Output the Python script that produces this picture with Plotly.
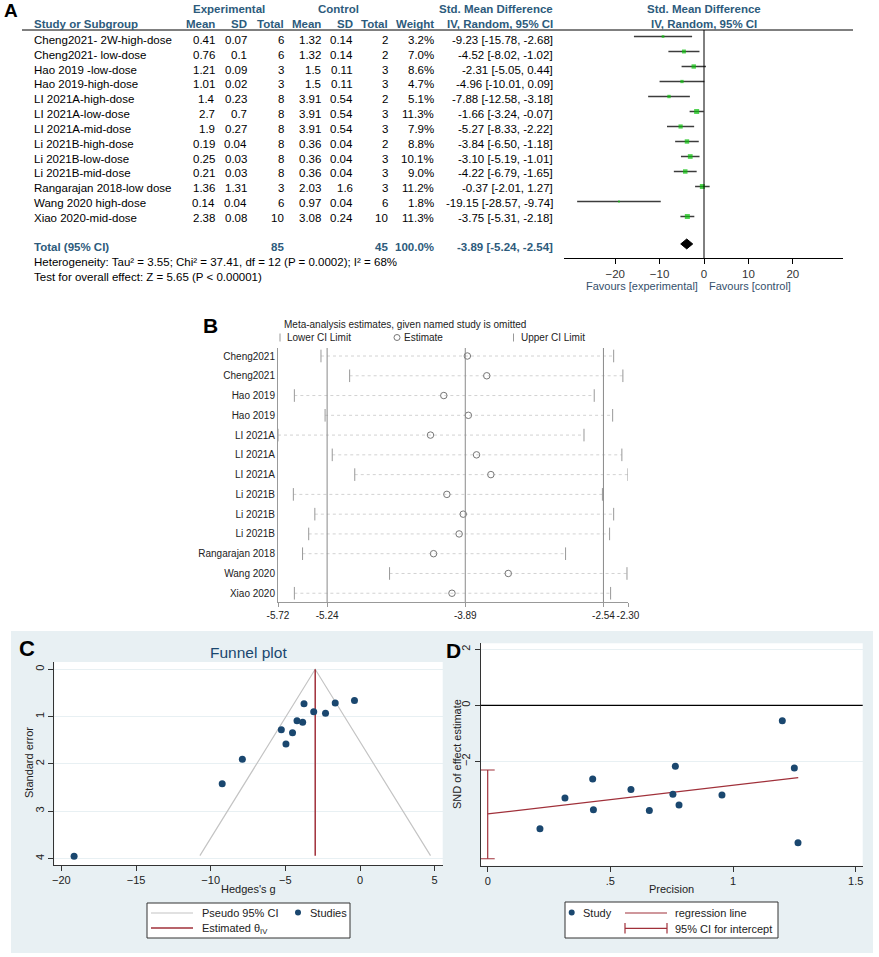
import plotly.graph_objects as go

W, H = 879, 957
def PX(x): return x / W
def PY(y): return 1 - y / H

FONT = "Liberation Sans, Arial, sans-serif"
HDR = "#2d5b7c"
NAVY = "#1a476f"
CRAN = "#a0303a"

# ---------------- Panel A data ----------------
studies = ["Cheng2021- 2W-high-dose", "Cheng2021- low-dose", "Hao 2019 -low-dose",
           "Hao 2019-high-dose", "LI 2021A-high-dose", "LI 2021A-low-dose",
           "LI 2021A-mid-dose", "Li 2021B-high-dose", "Li 2021B-low-dose",
           "Li 2021B-mid-dose", "Rangarajan 2018-low dose", "Wang 2020 high-dose",
           "Xiao 2020-mid-dose"]
exp_mean = [0.41, 0.76, 1.21, 1.01, 1.4, 2.7, 1.9, 0.19, 0.25, 0.21, 1.36, 0.14, 2.38]
exp_sd = [0.07, 0.1, 0.09, 0.02, 0.23, 0.7, 0.27, 0.04, 0.03, 0.03, 1.31, 0.04, 0.08]
exp_n = [6, 6, 3, 3, 8, 8, 8, 8, 8, 8, 3, 6, 10]
ctl_mean = [1.32, 1.32, 1.5, 1.5, 3.91, 3.91, 3.91, 0.36, 0.36, 0.36, 2.03, 0.97, 3.08]
ctl_sd = [0.14, 0.14, 0.11, 0.11, 0.54, 0.54, 0.54, 0.04, 0.04, 0.04, 1.6, 0.04, 0.24]
ctl_n = [2, 2, 3, 3, 2, 3, 3, 2, 3, 3, 3, 6, 10]
weight = [3.2, 7.0, 8.6, 4.7, 5.1, 11.3, 7.9, 8.8, 10.1, 9.0, 11.2, 1.8, 11.3]
smd = [-9.23, -4.52, -2.31, -4.96, -7.88, -1.66, -5.27, -3.84, -3.10, -4.22, -0.37, -19.15, -3.75]
ci_lo = [-15.78, -8.02, -5.05, -10.01, -12.58, -3.24, -8.33, -6.50, -5.19, -6.79, -2.01, -28.57, -5.31]
ci_hi = [-2.68, -1.02, 0.44, 0.09, -3.18, -0.07, -2.22, -1.18, -1.01, -1.65, 1.27, -9.74, -2.18]
total_exp, total_ctl, total_w = 85, 45, 100.0
pooled = [-3.89, -5.24, -2.54]   # estimate, lower, upper
forest_ticks = [-20, -10, 0, 10, 20]
het_text = "Heterogeneity: Tau² = 3.55; Chi² = 37.41, df = 12 (P = 0.0002); I² = 68%"
test_text = "Test for overall effect: Z = 5.65 (P < 0.00001)"

# ---------------- Panel B data ----------------
b_names = ["Cheng2021", "Cheng2021", "Hao 2019", "Hao 2019", "LI 2021A", "LI 2021A",
           "LI 2021A", "Li 2021B", "Li 2021B", "Li 2021B", "Rangarajan 2018",
           "Wang 2020", "Xiao 2020"]
b_est = [-3.87, -3.68, -4.10, -3.86, -4.23, -3.78, -3.64, -4.07, -3.91, -3.95, -4.20, -3.47, -4.02]
b_lo = [-5.30, -5.02, -5.56, -5.26, -5.72, -5.19, -4.97, -5.57, -5.36, -5.42, -5.48, -4.63, -5.56]
b_hi = [-2.44, -2.35, -2.63, -2.45, -2.73, -2.36, -2.30, -2.55, -2.44, -2.48, -2.91, -2.31, -2.47]
b_ticks = [-5.72, -5.24, -3.89, -2.54, -2.30]
b_ticklabels = ["-5.72", "-5.24", "-3.89", "-2.54", "-2.30"]

# ---------------- Panel C data ----------------
c_g = [-19.15, -9.23, -7.88, -5.27, -4.96, -4.52, -4.22, -3.84, -3.75, -3.10, -2.31, -1.66, -0.37]
c_se = [3.95, 2.42, 1.90, 1.28, 1.58, 1.34, 1.09, 1.12, 0.73, 0.90, 0.93, 0.71, 0.66]
c_theta = -3.0
c_se_max = 3.94
c_xticks = [-20, -15, -10, -5, 0, 5]
c_yticks = [0, 1, 2, 3, 4]

# ---------------- Panel D data ----------------
d_prec = [0.213, 0.315, 0.428, 0.431, 0.584, 0.659, 0.755, 0.765, 0.780, 0.955, 1.201, 1.250, 1.265]
d_snd = [-4.41, -3.31, -2.63, -3.73, -3.01, -3.76, -3.18, -2.18, -3.56, -3.20, -0.55, -2.24, -4.91]
d_reg_x = [0.0, 1.266]
d_reg_y = [-3.88, -2.58]
d_int_ci = [-5.48, -2.31]
d_xticks = [0, 0.5, 1, 1.5]
d_xticklabels = ["0", ".5", "1", "1.5"]
d_yticks = [-2, 0, 2]

fig = go.Figure()
ann = []
shapes = []

def A(x, y, text, size=11.5, color="#000", xanchor="left", yanchor="middle", angle=0, family=FONT):
    ann.append(dict(x=PX(x), y=PY(y), xref="paper", yref="paper", text=text, showarrow=False,
                    xanchor=xanchor, yanchor=yanchor, textangle=angle,
                    font=dict(size=size, color=color, family=family)))

def L(x0, y0, x1, y1, color, width=1.0):
    shapes.append(dict(type="line", xref="paper", yref="paper", x0=PX(x0), x1=PX(x1),
                       y0=PY(y0), y1=PY(y1), line=dict(color=color, width=width), layer="above"))

# ============ Panel A: forest plot ============
n = len(studies)
xs, ys = [], []
for i, (lo, hi) in enumerate(zip(ci_lo, ci_hi)):
    xs += [lo, hi, None]
    ys += [i, i, None]
fig.add_trace(go.Scatter(x=xs, y=ys, mode="lines", line=dict(color="#3c3c3c", width=1.5),
                         xaxis="x", yaxis="y", hoverinfo="skip", showlegend=False))
fig.add_trace(go.Scatter(x=smd, y=list(range(n)), mode="markers",
                         marker=dict(symbol="square", color="#0cc00c",
                                     size=[1.5 * w ** 0.5 for w in weight], line=dict(width=0)),
                         xaxis="x", yaxis="y", showlegend=False))
ty = n + 0.83
hh = 0.33
fig.add_trace(go.Scatter(x=[pooled[1], pooled[0], pooled[2], pooled[0], pooled[1]],
                         y=[ty, ty - hh, ty, ty + hh, ty], mode="lines", fill="toself",
                         fillcolor="black", line=dict(color="black", width=1),
                         xaxis="x", yaxis="y", showlegend=False))
shapes.append(dict(type="line", xref="x", yref="y domain", x0=0, x1=0, y0=0, y1=1,
                   line=dict(color="black", width=1)))
L(22, 30, 853, 30, "black")

# table text
A(2, 11, "<b>A</b>", size=19)
A(228.5, 9, "<b>Experimental</b>", color=HDR, xanchor="center")
A(338, 9, "<b>Control</b>", color=HDR, xanchor="center")
A(496, 9, "<b>Std. Mean Difference</b>", color=HDR, xanchor="center")
A(555, 24, "<b>IV, Random, 95% CI</b>", color=HDR, xanchor="right")
A(704, 9, "<b>Std. Mean Difference</b>", color=HDR, xanchor="center")
A(704, 24, "<b>IV, Random, 95% CI</b>", color=HDR, xanchor="center")
A(32, 24, "<b>Study or Subgroup</b>", color=HDR)
cols = [217, 249, 285.5, 323, 354.5, 390, 436]
for cx, t in zip(cols, ["Mean", "SD", "Total", "Mean", "SD", "Total", "Weight"]):
    A(cx, 24, "<b>%s</b>" % t, color=HDR, xanchor="right")
for i in range(n):
    y = 40 + 14.83 * i
    A(32, y, studies[i])
    vals = [str(exp_mean[i]), str(exp_sd[i]), str(exp_n[i]), str(ctl_mean[i]),
            str(ctl_sd[i]), str(ctl_n[i]), "%.1f%%" % weight[i]]
    for cx, t in zip(cols, vals):
        A(cx, y, t, xanchor="right")
    A(555, y, "%.2f [%.2f, %.2f]" % (smd[i], ci_lo[i], ci_hi[i]), xanchor="right")
A(32, 247, "<b>Total (95% CI)</b>", color=HDR)
A(285.5, 247, "<b>%d</b>" % total_exp, color=HDR, xanchor="right")
A(390, 247, "<b>%d</b>" % total_ctl, color=HDR, xanchor="right")
A(436, 247, "<b>%.1f%%</b>" % total_w, color=HDR, xanchor="right")
A(555, 247, "<b>%.2f [%.2f, %.2f]</b>" % tuple(pooled), color=HDR, xanchor="right")
A(32, 262, het_text)
A(32, 277, test_text)
A(642, 285.5, "Favours [experimental]", size=11, color="#34506b", xanchor="center")
A(750, 285.5, "Favours [control]", size=11, color="#34506b", xanchor="center")

# ============ Panel B: sensitivity ============
dx, dy = [], []
for i, (lo, hi) in enumerate(zip(b_lo, b_hi)):
    dx += [lo, hi, None]
    dy += [i, i, None]
fig.add_trace(go.Scatter(x=dx, y=dy, mode="lines", line=dict(color="#d2d2d2", width=1, dash="dot"),
                         xaxis="x2", yaxis="y2", hoverinfo="skip", showlegend=False))
for ref in [pooled[1], pooled[0], pooled[2]]:
    shapes.append(dict(type="line", xref="x2", yref="y2 domain", x0=ref, x1=ref, y0=0, y1=1,
                       line=dict(color="#8a8a8a", width=1)))
fig.add_trace(go.Scatter(x=b_lo + b_hi, y=list(range(n)) * 2, mode="markers",
                         marker=dict(symbol="line-ns", size=9, line=dict(color="#999", width=1)),
                         xaxis="x2", yaxis="y2", showlegend=False))
fig.add_trace(go.Scatter(x=b_est, y=list(range(n)), mode="markers",
                         marker=dict(symbol="circle-open", size=6.5, color="#777", line=dict(width=1)),
                         xaxis="x2", yaxis="y2", showlegend=False))
A(201, 326, "<b>B</b>", size=21)
A(282, 324, "Meta-analysis estimates, given named study is omitted", size=10, color="#222")
L(280, 333.5, 280, 341.5, "#999")
A(285, 337.5, "Lower CI Limit", size=10, color="#222")
shapes.append(dict(type="circle", xref="paper", yref="paper", x0=PX(394), x1=PX(400),
                   y0=PY(340.5), y1=PY(334.5), line=dict(color="#777", width=1), layer="above"))
A(402, 337.5, "Estimate", size=10, color="#222")
L(513.5, 333.5, 513.5, 341.5, "#999")
A(519, 337.5, "Upper CI Limit", size=10, color="#222")

# ============ Panel C/D background ============
shapes.insert(0, dict(type="rect", xref="paper", yref="paper", x0=PX(11), x1=PX(873),
                      y0=PY(953), y1=PY(631), fillcolor="#e8f0f3", line=dict(width=0), layer="below"))
for ax in ["x3", "x4"]:
    yy = ax.replace("x", "y")
    shapes.append(dict(type="rect", xref=ax + " domain", yref=yy + " domain", x0=0, x1=1, y0=0, y1=1,
                       fillcolor="white", line=dict(width=0), layer="below"))

# ============ Panel C: funnel ============
fx = [c_theta - 1.96 * c_se_max, c_theta, c_theta + 1.96 * c_se_max]
fy = [c_se_max, 0, c_se_max]
fig.add_trace(go.Scatter(x=fx, y=fy, mode="lines", line=dict(color="#c4c4c4", width=1.2),
                         xaxis="x3", yaxis="y3", showlegend=False))
fig.add_trace(go.Scatter(x=[c_theta, c_theta], y=[0, c_se_max], mode="lines",
                         line=dict(color=CRAN, width=1.5), xaxis="x3", yaxis="y3", showlegend=False))
fig.add_trace(go.Scatter(x=c_g, y=c_se, mode="markers", marker=dict(color=NAVY, size=7),
                         xaxis="x3", yaxis="y3", showlegend=False))
A(17, 648, "<b>C</b>", size=22)
A(248, 652, "Funnel plot", size=15.5, color=NAVY, xanchor="center")
A(248, 889, "Hedges's g", size=11, color="#222", xanchor="center")
A(29, 763, "Standard error", size=11, color="#222", xanchor="center", angle=-90)
# legend C
shapes.append(dict(type="rect", xref="paper", yref="paper", x0=PX(147), x1=PX(350), y0=PY(938),
                   y1=PY(903), fillcolor="white", line=dict(color="#333", width=1), layer="above"))
L(151, 913, 193, 913, "#c4c4c4", 1.2)
L(151, 928, 193, 928, CRAN, 1.5)
shapes.append(dict(type="circle", xref="paper", yref="paper", x0=PX(295), x1=PX(301), y0=PY(915.5),
                   y1=PY(909.5), fillcolor=NAVY, line=dict(width=0), layer="above"))
A(199.5, 913, "Pseudo 95% CI", size=11, color="#222")
A(308, 913, "Studies", size=11, color="#222")
A(199.5, 928.5, "Estimated θ<sub>IV</sub>", size=11, color="#222")

# ============ Panel D: Egger ============
shapes.append(dict(type="line", xref="x4 domain", yref="y4", x0=0, x1=1, y0=0, y1=0,
                   line=dict(color="black", width=1.2)))
fig.add_trace(go.Scatter(x=[0, 0], y=d_int_ci, mode="lines+markers",
                         line=dict(color=CRAN, width=1.2),
                         marker=dict(symbol="line-ew", size=10, line=dict(color=CRAN, width=1.2)),
                         xaxis="x4", yaxis="y4", showlegend=False))
fig.add_trace(go.Scatter(x=d_reg_x, y=d_reg_y, mode="lines", line=dict(color=CRAN, width=1.2),
                         xaxis="x4", yaxis="y4", showlegend=False))
fig.add_trace(go.Scatter(x=d_prec, y=d_snd, mode="markers", marker=dict(color=NAVY, size=7),
                         xaxis="x4", yaxis="y4", showlegend=False))
A(444, 650, "<b>D</b>", size=21)
A(671.5, 889, "Precision", size=11, color="#222", xanchor="center")
A(457, 754, "SND of effect estimate", size=11, color="#222", xanchor="center", angle=-90)
# legend D
shapes.append(dict(type="rect", xref="paper", yref="paper", x0=PX(565), x1=PX(778), y0=PY(938),
                   y1=PY(902), fillcolor="white", line=dict(color="#333", width=1), layer="above"))
shapes.append(dict(type="circle", xref="paper", yref="paper", x0=PX(568.7), x1=PX(574.7),
                   y0=PY(915.5), y1=PY(909.5), fillcolor=NAVY, line=dict(width=0), layer="above"))
L(625, 913, 667, 913, CRAN, 1.2)
L(625, 928.3, 667, 928.3, CRAN, 1.2)
for cx in [625, 667]:
    L(cx, 933.5, cx, 923, CRAN, 1.2)
A(581, 913, "Study", size=11, color="#222")
A(672.5, 913, "regression line", size=11, color="#222")
A(672.5, 928.5, "95% CI for intercept", size=11, color="#222")

# ============ Layout ============
tf11 = dict(size=11, color="#222", family=FONT)
fig.update_layout(
    width=W, height=H, margin=dict(l=0, r=0, t=0, b=0, autoexpand=False),
    paper_bgcolor="white", plot_bgcolor="white", showlegend=False,
    font=dict(family=FONT),
    xaxis=dict(domain=[PX(564), PX(843)], range=[(564 - 704) / 4.44, (843 - 704) / 4.44], anchor="y",
               tickvals=forest_ticks, ticks="outside", ticklen=5, tickcolor="black", tickangle=0,
               showline=True, linecolor="black", linewidth=1, showgrid=False, zeroline=False,
               automargin=False, tickfont=dict(size=11.5, color="#333", family=FONT)),
    yaxis=dict(domain=[PY(258), PY(30)], range=[(258 - 36.5) / 15, (30 - 36.5) / 15], anchor="x",
               visible=False, automargin=False),
    xaxis2=dict(domain=[PX(278), PX(628)], range=[b_ticks[0], b_ticks[-1]], anchor="y2",
                tickvals=b_ticks, ticktext=b_ticklabels, ticks="outside", ticklen=4, tickcolor="#999",
                tickangle=0, showline=True, linecolor="#999", showgrid=False, zeroline=False,
                automargin=False, tickfont=dict(size=10, color="#222", family=FONT)),
    yaxis2=dict(domain=[PY(602), PY(348)], range=[(602 - 356) / 19.77, (348 - 356) / 19.77],
                anchor="x2", tickvals=list(range(n)), ticktext=b_names, ticks="",
                showline=True, linecolor="#999", showgrid=False, zeroline=False,
                automargin=False, tickfont=dict(size=10, color="#222", family=FONT)),
    xaxis3=dict(domain=[PX(54.3), PX(442.7)], range=[(54.3 - 360) / 14.93, (442.7 - 360) / 14.93],
                anchor="y3", tickvals=c_xticks, ticks="outside", ticklen=5, tickcolor="#333",
                tickangle=0, showline=True, linecolor="#333", showgrid=False, zeroline=False,
                automargin=False, tickfont=tf11),
    yaxis3=dict(domain=[PY(865), PY(662)], range=[(865 - 669.3) / 47.3, (662 - 669.3) / 47.3],
                anchor="x3", tickvals=c_yticks, ticks="outside", ticklen=5, tickcolor="#333",
                tickangle=-90, showline=True, linecolor="#333", showgrid=True, gridcolor="#e8f0f3",
                zeroline=False, automargin=False, tickfont=tf11),
    xaxis4=dict(domain=[PX(480.7), PX(862.7)], range=[(480.7 - 487.7) / 245.3, (862.7 - 487.7) / 245.3],
                anchor="y4", tickvals=d_xticks, ticktext=d_xticklabels, ticks="outside", ticklen=5,
                tickangle=0, tickcolor="#333", showline=True, linecolor="#333", showgrid=False,
                zeroline=False, automargin=False, tickfont=tf11),
    yaxis4=dict(domain=[PY(865.7), PY(643.3)], range=[(705.3 - 865.7) / 28, (705.3 - 643.3) / 28],
                anchor="x4", tickvals=d_yticks, ticks="outside", ticklen=5, tickcolor="#333",
                tickangle=-90, showline=True, linecolor="#333", showgrid=True, gridcolor="#e8f0f3",
                zeroline=False, automargin=False, tickfont=tf11),
    annotations=ann, shapes=shapes,
)
fig.write_html("out.html", config={"displayModeBar": False},
               post_script="document.body.style.margin='0';document.body.style.overflow='hidden';")
